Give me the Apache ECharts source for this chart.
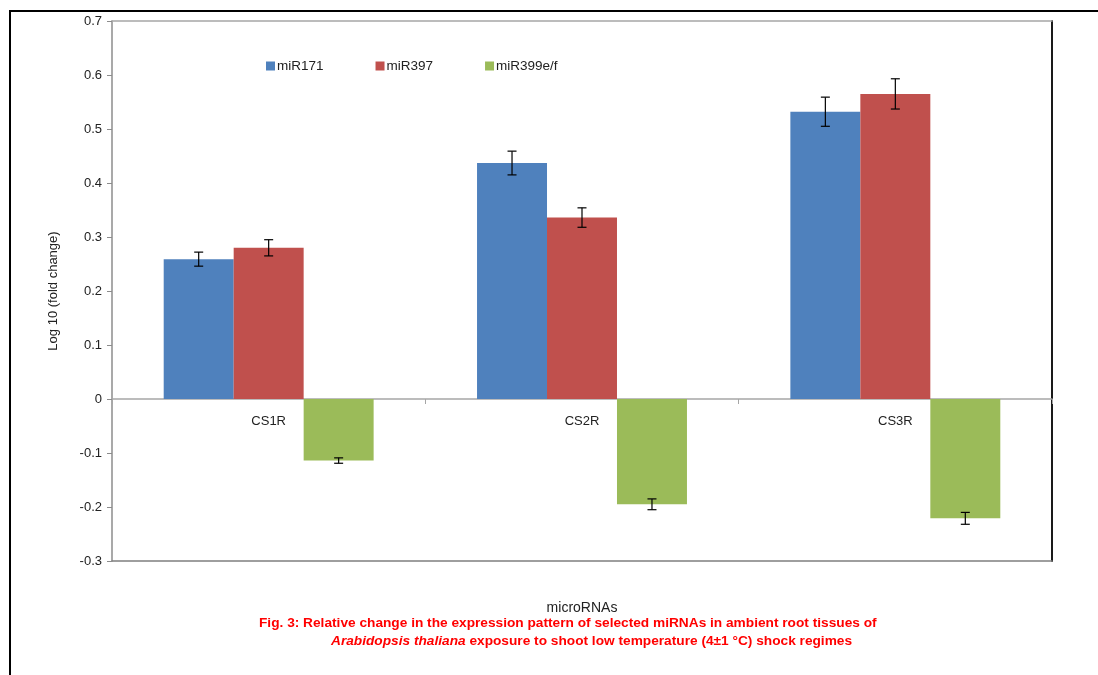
<!DOCTYPE html>
<html>
<head>
<meta charset="utf-8">
<script src="https://cdn.jsdelivr.net/npm/echarts@6/dist/echarts.min.js"></script>
<style>
  html, body { margin: 0; padding: 0; background: #fff; }
  #chart { position: absolute; left: 0; top: 0; width: 1098px; height: 675px; }
  #frame { position: absolute; left: 9px; top: 10px; right: 0; bottom: 0;
           border-left: 2px solid #000; border-top: 2px solid #000; pointer-events: none; }
</style>
</head>
<body>
<div id="chart"></div>
<div id="frame"></div>
<script>
// Sample groups on the category axis
const categories = ['CS1R', 'CS2R', 'CS3R'];
// Log10 fold change per miRNA
const miR171 = [0.259, 0.437, 0.532];
const miR397 = [0.280, 0.336, 0.565];
const miR399 = [-0.114, -0.195, -0.221];
// Standard error per bar
const err171 = [0.013, 0.022, 0.027];
const err397 = [0.015, 0.018, 0.028];
const err399 = [0.005, 0.010, 0.011];
const yTicks = { min: -0.3, max: 0.7, interval: 0.1 };

const colors = ['#4F81BD', '#C0504D', '#9BBB59'];
const seriesNames = ['miR171', 'miR397', 'miR399e/f'];
const values = [miR171, miR397, miR399];
const errors = [err171, err397, err399];
const catGap = 0.33;
const font = 'Liberation Sans, Arial, sans-serif';

const chart = echarts.init(document.getElementById('chart'), null, { renderer: 'canvas' });

function errorSeries(idx) {
  const data = categories.map((c, i) => [i, values[idx][i], errors[idx][i]]);
  return {
    type: 'custom',
    name: seriesNames[idx] + ' error',
    xAxisIndex: 0, yAxisIndex: 0,
    silent: true, z: 5,
    data: data,
    renderItem: function (params, api) {
      const band = api.size([1, 0])[0];
      const barW = band * (1 - catGap) / 3;
      const offset = (idx - 1) * barW;
      const v = api.value(1), e = api.value(2);
      const top = api.coord([api.value(0), v + e]);
      const bot = api.coord([api.value(0), v - e]);
      const x = top[0] + offset;
      const cap = 4.5;
      const style = { stroke: '#000', lineWidth: 1.2 };
      return {
        type: 'group',
        children: [
          { type: 'line', shape: { x1: x, y1: top[1], x2: x, y2: bot[1] }, style: style },
          { type: 'line', shape: { x1: x - cap, y1: top[1], x2: x + cap, y2: top[1] }, style: style },
          { type: 'line', shape: { x1: x - cap, y1: bot[1], x2: x + cap, y2: bot[1] }, style: style }
        ]
      };
    }
  };
}

// Category names sit just under the zero line
const categoryLabels = {
  type: 'custom',
  name: 'category labels',
  xAxisIndex: 0, yAxisIndex: 0,
  silent: true, z: 6,
  data: categories.map((c, i) => [i, 0]),
  renderItem: function (params, api) {
    const p = api.coord([api.value(0), 0]);
    return {
      type: 'text',
      x: p[0], y: p[1] + 16,
      style: {
        text: categories[params.dataIndex],
        fill: '#222', font: '13px ' + font,
        textAlign: 'center', textVerticalAlign: 'top'
      }
    };
  }
};

const barSeries = values.map((vals, idx) => ({
  type: 'bar',
  name: seriesNames[idx],
  xAxisIndex: 0, yAxisIndex: 0,
  data: vals,
  barGap: '0%',
  barCategoryGap: (catGap * 100) + '%',
  itemStyle: { color: colors[idx] },
  emphasis: { disabled: true }
}));

const captionStyle = { color: '#ff0000', fontSize: 13.7, fontWeight: 'bold', fontFamily: font };

const option = {
  animation: false,
  textStyle: { fontFamily: font },
  title: [
    {
      text: 'Fig. 3: Relative change in the expression pattern of selected miRNAs in ambient root tissues of',
      left: 259, top: 616, padding: 0,
      textStyle: captionStyle
    },
    {
      text: '{i|Arabidopsis thaliana} {b|exposure to shoot low temperature (4±1 °C) shock regimes}',
      left: 331, top: 634, padding: 0,
      textStyle: {
        fontSize: 13.7, fontFamily: font,
        rich: {
          i: Object.assign({}, captionStyle, { fontStyle: 'italic' }),
          b: captionStyle
        }
      }
    }
  ],
  legend: {
    data: seriesNames,
    left: 266, top: 59, padding: 0,
    itemWidth: 9, itemHeight: 9, itemGap: 52,
    icon: 'rect',
    textStyle: { fontSize: 13.5, color: '#222', fontFamily: font, padding: [0, 0, 0, -3] }
  },
  grid: { left: 112, top: 21, right: 46, bottom: 114, containLabel: false },
  xAxis: [
    {
      type: 'category', data: categories, position: 'bottom',
      axisLine: { onZero: true, lineStyle: { color: '#a6a6a6', width: 1.5 } },
      axisTick: { show: true, alignWithLabel: false, length: 5, lineStyle: { color: '#a6a6a6' } },
      axisLabel: { show: false },
      splitLine: { show: false }
    },
    {
      type: 'category', data: categories, position: 'bottom',
      axisLine: { onZero: false, lineStyle: { color: '#7f7f7f', width: 1.5 } },
      axisTick: { show: false }, axisLabel: { show: false },
      name: 'microRNAs', nameLocation: 'middle', nameGap: 40,
      nameTextStyle: { color: '#222', fontSize: 14, fontFamily: font }
    },
    {
      type: 'category', data: categories, position: 'top',
      axisLine: { onZero: false, lineStyle: { color: '#a6a6a6', width: 1.5 } },
      axisTick: { show: false }, axisLabel: { show: false }
    }
  ],
  yAxis: [
    {
      type: 'value', min: yTicks.min, max: yTicks.max, interval: yTicks.interval,
      position: 'left',
      axisLine: { show: true, onZero: false, lineStyle: { color: '#8c8c8c', width: 1.5 } },
      axisTick: { show: true, length: 5, lineStyle: { color: '#8c8c8c' } },
      axisLabel: {
        color: '#222', fontSize: 13, margin: 10, fontFamily: font,
        formatter: v => (Math.abs(v) < 1e-9 ? '0' : v.toFixed(1))
      },
      splitLine: { show: false },
      name: 'Log 10 (fold change)', nameLocation: 'middle', nameGap: 52,
      nameTextStyle: { color: '#222', fontSize: 13, fontFamily: font }
    },
    {
      type: 'value', min: yTicks.min, max: yTicks.max, interval: yTicks.interval,
      position: 'right',
      axisLine: { show: true, onZero: false, lineStyle: { color: '#1a1a1a', width: 2 } },
      axisTick: { show: false }, axisLabel: { show: false }, splitLine: { show: false }
    }
  ],
  series: barSeries.concat([0, 1, 2].map(errorSeries)).concat([categoryLabels])
};

chart.setOption(option);
</script>
</body>
</html>
